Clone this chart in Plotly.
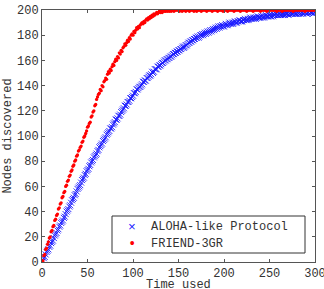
import plotly.graph_objects as go

time_used = list(range(0, 301))

aloha = [
    0, 1, 3, 4, 6, 8, 9, 10, 12, 13,
    15, 16, 17, 19, 21, 22, 23, 25, 26, 28,
    29, 31, 32, 33, 35, 36, 38, 40, 41, 42,
    44, 45, 47, 49, 50, 51, 53, 54, 56, 58,
    59, 60, 61, 63, 65, 66, 67, 69, 70, 72,
    73, 74, 76, 77, 79, 80, 81, 83, 84, 85,
    86, 88, 89, 91, 92, 93, 94, 96, 97, 98,
    99, 101, 102, 103, 104, 106, 106, 107, 109, 110,
    111, 113, 113, 114, 116, 116, 117, 119, 120, 121,
    122, 124, 124, 125, 127, 127, 128, 130, 130, 131,
    132, 134, 134, 135, 137, 137, 138, 139, 139, 140,
    141, 143, 143, 144, 144, 146, 146, 147, 148, 148,
    149, 151, 150, 151, 153, 153, 153, 155, 155, 156,
    156, 157, 158, 158, 159, 160, 160, 161, 161, 162,
    162, 163, 163, 164, 165, 165, 166, 166, 167, 167,
    168, 168, 169, 169, 170, 171, 170, 171, 172, 172,
    173, 174, 174, 175, 175, 176, 176, 177, 177, 178,
    178, 179, 178, 179, 180, 180, 181, 180, 181, 182,
    181, 182, 183, 182, 183, 184, 183, 184, 185, 184,
    185, 186, 185, 186, 187, 186, 187, 187, 188, 187,
    187, 188, 189, 188, 188, 189, 190, 189, 189, 190,
    189, 190, 191, 190, 190, 191, 191, 192, 191, 191,
    191, 192, 192, 193, 192, 192, 193, 192, 193, 194,
    193, 193, 194, 193, 194, 193, 194, 195, 194, 194,
    194, 195, 194, 195, 194, 195, 196, 195, 195, 195,
    196, 195, 195, 196, 195, 196, 196, 197, 196, 196,
    196, 197, 196, 196, 197, 196, 197, 196, 197, 197,
    197, 196, 197, 198, 197, 197, 197, 198, 197, 197,
    197, 198, 197, 198, 197, 198, 198, 197, 198, 198,
    198, 197, 198, 198, 199, 198, 198, 198, 197, 198,
    198,
]

friend = [
    0, 1, 5, 6, 10, 11, 14, 16, 19, 20,
    24, 25, 28, 29, 33, 34, 37, 38, 42, 43,
    46, 47, 51, 52, 55, 56, 60, 61, 64, 65,
    68, 69, 72, 73, 76, 77, 80, 81, 84, 85,
    88, 89, 91, 92, 95, 96, 99, 100, 102, 104,
    107, 108, 110, 111, 115, 116, 119, 120, 124, 125,
    129, 131, 133, 134, 137, 136, 140, 139, 143, 144,
    146, 145, 149, 151, 150, 153, 152, 155, 157, 156,
    159, 161, 160, 163, 162, 166, 165, 168, 167, 170,
    171, 173, 172, 174, 176, 175, 178, 177, 180, 181,
    180, 183, 182, 184, 186, 185, 187, 186, 188, 189,
    190, 189, 191, 190, 192, 193, 192, 194, 193, 195,
    194, 196, 195, 197, 196, 197, 198, 197, 198, 199,
    198, 199, 198, 199, 200, 199, 199, 200, 199, 200,
    199, 200, 199, 200, 200, 199, 200, 200, 200, 200,
    200, 199, 200, 200, 199, 200, 200, 200, 199, 200,
    200, 200, 199, 200, 200, 200, 200, 199, 200, 200,
    199, 200, 200, 200, 200, 199, 200, 200, 200, 200,
    200, 199, 200, 200, 200, 200, 200, 199, 200, 200,
    200, 200, 200, 199, 200, 200, 200, 200, 200, 199,
    200, 200, 200, 200, 199, 200, 200, 200, 200, 200,
    200, 199, 200, 200, 200, 200, 200, 200, 199, 200,
    200, 200, 200, 200, 200, 199, 200, 200, 200, 200,
    200, 200, 199, 200, 200, 200, 200, 200, 200, 200,
    199, 200, 200, 200, 200, 200, 200, 199, 200, 200,
    200, 200, 200, 200, 200, 200, 200, 200, 199, 200,
    200, 200, 200, 200, 199, 200, 200, 200, 200, 200,
    200, 200, 200, 200, 200, 200, 199, 200, 200, 200,
    200, 200, 200, 200, 200, 200, 200, 200, 200, 199,
    200, 200, 200, 200, 200, 200, 200, 200, 200, 200,
    200,
]

x_ticks = [0, 50, 100, 150, 200, 250, 300]
y_ticks = [0, 20, 40, 60, 80, 100, 120, 140, 160, 180, 200]
series_names = ["ALOHA-like Protocol", "FRIEND-3GR"]
series_colors = ["#1a1aff", "#ff0000"]
legend_glyphs = ["\u00d7", "\u2022"]

FONT = "Liberation Mono"
TXT = "#333333"

# plot area geometry (pixels) used to place the hand-made legend box
W, H = 324, 289
ML, MR, MT, MB = 42, 9, 10, 27
PW, PH = W - ML - MR, H - MT - MB


def px_x(px):
    return (px - ML) / PW


def px_y(py):
    return (H - MB - py) / PH


fig = go.Figure()
fig.add_trace(go.Scatter(
    x=time_used, y=aloha, mode="markers", name=series_names[0], showlegend=False,
    marker=dict(symbol="x-thin", size=6, line=dict(width=0.9, color=series_colors[0]),
                color=series_colors[0]),
))
fig.add_trace(go.Scatter(
    x=time_used, y=friend, mode="markers", name=series_names[1], showlegend=False,
    marker=dict(symbol="circle", size=3.3, color=series_colors[1], line=dict(width=0)),
))

axis_common = dict(
    showgrid=False, zeroline=False, showline=True, linecolor="#555555", linewidth=1,
    mirror="ticks", ticks="inside", ticklen=3, tickcolor="#555555",
    tickfont=dict(family=FONT, size=12, color=TXT), automargin=False,
)

# legend box
fig.add_shape(type="rect", xref="paper", yref="paper",
              x0=px_x(112), x1=px_x(305), y0=px_y(253), y1=px_y(216),
              fillcolor="white", line=dict(color="#333333", width=1), layer="above")

annotations = []
row_y = [227, 244]
for i in range(2):
    annotations.append(dict(
        xref="paper", yref="paper", x=px_x(132), y=px_y(row_y[i]),
        xanchor="center", yanchor="middle", showarrow=False,
        text=legend_glyphs[i],
        font=dict(family=FONT, size=13 if i == 0 else 14, color=series_colors[i]),
    ))
    annotations.append(dict(
        xref="paper", yref="paper", x=px_x(149), y=px_y(row_y[i]),
        xanchor="left", yanchor="middle", showarrow=False,
        text=series_names[i],
        font=dict(family=FONT, size=12, color=TXT),
    ))
annotations.append(dict(
    xref="paper", yref="paper", x=0.5, y=0, yshift=-14,
    xanchor="center", yanchor="top", showarrow=False,
    text="Time used", font=dict(family=FONT, size=12, color=TXT),
))

fig.update_layout(
    width=W, height=H,
    margin=dict(l=ML, r=MR, t=MT, b=MB, pad=0),
    paper_bgcolor="white", plot_bgcolor="white",
    font=dict(family=FONT, size=12, color=TXT),
    xaxis=dict(range=[-0.0001, 300.0001], tickvals=x_ticks, ticklabeloverflow="allow",
               **axis_common),
    yaxis=dict(range=[-0.0001, 200.0001], tickvals=y_ticks,
               title=dict(text="Nodes discovered", font=dict(family=FONT, size=12, color=TXT), standoff=2),
               **axis_common),
    annotations=annotations,
    showlegend=False,
)

fig.write_html("out.html")
